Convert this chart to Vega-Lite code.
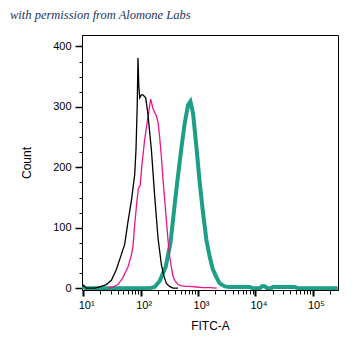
{
  "$schema": "https://vega.github.io/schema/vega-lite/v6.json",
  "autosize": "none",
  "width": 256,
  "height": 255,
  "padding": {"left": 82, "top": 35, "right": 21, "bottom": 69},
  "background": "white",
  "title": {
    "text": "with permission from Alomone Labs",
    "anchor": "start",
    "frame": "group",
    "dx": -72,
    "offset": 14,
    "font": "Liberation Serif",
    "fontStyle": "italic",
    "fontWeight": "normal",
    "fontSize": 12.5,
    "color": "#1d3461"
  },
  "config": {
    "view": {"stroke": "black", "strokeWidth": 1},
    "axis": {
      "grid": false,
      "labelFont": "Liberation Sans",
      "labelFontSize": 11,
      "labelColor": "black",
      "titleFont": "Liberation Sans",
      "titleFontSize": 12,
      "titleFontWeight": "normal",
      "titleColor": "black",
      "tickColor": "black",
      "domainColor": "black"
    }
  },
  "data": {
    "values": [
      {"series": "teal", "fitc": 9.6, "count": 3},
      {"series": "teal", "fitc": 11, "count": 0},
      {"series": "teal", "fitc": 60, "count": 0},
      {"series": "teal", "fitc": 144, "count": 0},
      {"series": "teal", "fitc": 176, "count": 2},
      {"series": "teal", "fitc": 215, "count": 12},
      {"series": "teal", "fitc": 273, "count": 35},
      {"series": "teal", "fitc": 333, "count": 76},
      {"series": "teal", "fitc": 385, "count": 131},
      {"series": "teal", "fitc": 434, "count": 175},
      {"series": "teal", "fitc": 514, "count": 232},
      {"series": "teal", "fitc": 587, "count": 273},
      {"series": "teal", "fitc": 670, "count": 303},
      {"series": "teal", "fitc": 738, "count": 309},
      {"series": "teal", "fitc": 819, "count": 290},
      {"series": "teal", "fitc": 938, "count": 234},
      {"series": "teal", "fitc": 1071, "count": 175},
      {"series": "teal", "fitc": 1222, "count": 125},
      {"series": "teal", "fitc": 1400, "count": 80},
      {"series": "teal", "fitc": 1600, "count": 52},
      {"series": "teal", "fitc": 1804, "count": 32},
      {"series": "teal", "fitc": 2093, "count": 18},
      {"series": "teal", "fitc": 2389, "count": 8},
      {"series": "teal", "fitc": 2929, "count": 3},
      {"series": "teal", "fitc": 3500, "count": 2},
      {"series": "teal", "fitc": 5500, "count": 2},
      {"series": "teal", "fitc": 7900, "count": 2},
      {"series": "teal", "fitc": 9000, "count": 0},
      {"series": "teal", "fitc": 12000, "count": 0},
      {"series": "teal", "fitc": 13000, "count": 3},
      {"series": "teal", "fitc": 14500, "count": 3},
      {"series": "teal", "fitc": 16000, "count": 0},
      {"series": "teal", "fitc": 19000, "count": 0},
      {"series": "teal", "fitc": 20000, "count": 2},
      {"series": "teal", "fitc": 48000, "count": 2},
      {"series": "teal", "fitc": 55000, "count": 0},
      {"series": "teal", "fitc": 272000, "count": 0},
      {"series": "pink", "fitc": 27.1, "count": 0},
      {"series": "pink", "fitc": 33.0, "count": 2},
      {"series": "pink", "fitc": 40.4, "count": 6},
      {"series": "pink", "fitc": 49.3, "count": 18},
      {"series": "pink", "fitc": 60.3, "count": 35},
      {"series": "pink", "fitc": 69.2, "count": 55},
      {"series": "pink", "fitc": 73.8, "count": 70},
      {"series": "pink", "fitc": 78.9, "count": 105},
      {"series": "pink", "fitc": 86.5, "count": 145},
      {"series": "pink", "fitc": 91.5, "count": 165},
      {"series": "pink", "fitc": 98.4, "count": 170},
      {"series": "pink", "fitc": 104.5, "count": 200},
      {"series": "pink", "fitc": 117.8, "count": 246},
      {"series": "pink", "fitc": 134.5, "count": 284},
      {"series": "pink", "fitc": 150, "count": 313},
      {"series": "pink", "fitc": 164.4, "count": 297},
      {"series": "pink", "fitc": 188.4, "count": 285},
      {"series": "pink", "fitc": 201, "count": 275},
      {"series": "pink", "fitc": 215, "count": 250},
      {"series": "pink", "fitc": 230, "count": 218},
      {"series": "pink", "fitc": 245.6, "count": 180},
      {"series": "pink", "fitc": 263, "count": 146},
      {"series": "pink", "fitc": 281, "count": 113},
      {"series": "pink", "fitc": 300, "count": 80},
      {"series": "pink", "fitc": 321, "count": 52},
      {"series": "pink", "fitc": 344, "count": 35},
      {"series": "pink", "fitc": 366, "count": 20},
      {"series": "pink", "fitc": 393, "count": 13},
      {"series": "pink", "fitc": 449, "count": 6},
      {"series": "pink", "fitc": 520, "count": 4},
      {"series": "pink", "fitc": 628, "count": 3},
      {"series": "pink", "fitc": 716, "count": 3},
      {"series": "pink", "fitc": 938, "count": 2},
      {"series": "pink", "fitc": 1208, "count": 1},
      {"series": "pink", "fitc": 1600, "count": 1},
      {"series": "pink", "fitc": 2120, "count": 0},
      {"series": "black", "fitc": 9.6, "count": 4},
      {"series": "black", "fitc": 9.9, "count": 5},
      {"series": "black", "fitc": 11.4, "count": 0},
      {"series": "black", "fitc": 15.9, "count": 0},
      {"series": "black", "fitc": 19.4, "count": 2},
      {"series": "black", "fitc": 25.3, "count": 6},
      {"series": "black", "fitc": 31, "count": 13},
      {"series": "black", "fitc": 37.8, "count": 31},
      {"series": "black", "fitc": 46.3, "count": 56},
      {"series": "black", "fitc": 52.9, "count": 73},
      {"series": "black", "fitc": 60.3, "count": 110},
      {"series": "black", "fitc": 69.2, "count": 145},
      {"series": "black", "fitc": 78.9, "count": 188},
      {"series": "black", "fitc": 83.2, "count": 230},
      {"series": "black", "fitc": 87.2, "count": 300},
      {"series": "black", "fitc": 90.1, "count": 381},
      {"series": "black", "fitc": 93, "count": 335},
      {"series": "black", "fitc": 96.4, "count": 315},
      {"series": "black", "fitc": 103.2, "count": 320},
      {"series": "black", "fitc": 110, "count": 320},
      {"series": "black", "fitc": 122.8, "count": 315},
      {"series": "black", "fitc": 134.5, "count": 287},
      {"series": "black", "fitc": 154.2, "count": 229},
      {"series": "black", "fitc": 176.1, "count": 152},
      {"series": "black", "fitc": 201.1, "count": 83},
      {"series": "black", "fitc": 230.3, "count": 39},
      {"series": "black", "fitc": 255, "count": 20},
      {"series": "black", "fitc": 281.2, "count": 8},
      {"series": "black", "fitc": 320, "count": 3},
      {"series": "black", "fitc": 366.4, "count": 0},
      {"series": "black", "fitc": 450, "count": 0}
    ]
  },
  "resolve": {"axis": {"x": "independent", "y": "independent"}},
  "layer": [
    {
      "transform": [{"filter": "datum.series == 'teal'"}],
      "mark": {"type": "line", "color": "#1c9f86", "strokeWidth": 4, "clip": true},
      "encoding": {
        "x": {
          "field": "fitc", "type": "quantitative",
          "scale": {"type": "log", "domain": [9.53, 275000], "nice": false},
          "axis": {
            "orient": "bottom",
            "values": [10, 100, 1000, 10000, 100000],
            "labelExpr": "datum.value == 10 ? '10¹' : datum.value == 100 ? '10²' : datum.value == 1000 ? '10³' : datum.value == 10000 ? '10⁴' : '10⁵'",
            "tickSize": 6,
            "tickWidth": 2,
            "labelPadding": 3,
            "labelOffset": 3,
            "title": "FITC-A",
            "titlePadding": 10
          }
        },
        "y": {
          "field": "count", "type": "quantitative",
          "scale": {"domain": [-3, 419], "nice": false, "zero": false},
          "axis": {
            "orient": "left",
            "values": [0, 100, 200, 300, 400],
            "tickSize": 7,
            "tickWidth": 1.5,
            "labelPadding": 4,
            "title": "Count",
            "titlePadding": 19
          }
        }
      }
    },
    {
      "transform": [{"filter": "datum.series == 'pink'"}],
      "mark": {"type": "line", "color": "#e8178a", "strokeWidth": 1.3, "clip": true},
      "encoding": {
        "x": {
          "field": "fitc", "type": "quantitative",
          "scale": {"type": "log", "domain": [9.53, 275000], "nice": false},
          "axis": {
            "orient": "bottom",
            "values": [20, 30, 40, 50, 60, 70, 80, 90, 200, 300, 400, 500, 600, 700, 800, 900, 2000, 3000, 4000, 5000, 6000, 7000, 8000, 9000, 20000, 30000, 40000, 50000, 60000, 70000, 80000, 90000, 200000],
            "labels": false,
            "domain": false,
            "tickSize": 4,
            "tickWidth": 1,
            "title": null
          }
        },
        "y": {
          "field": "count", "type": "quantitative",
          "scale": {"domain": [-3, 419], "nice": false, "zero": false},
          "axis": {
            "orient": "left",
            "values": [25, 50, 75, 125, 150, 175, 225, 250, 275, 325, 350, 375],
            "labels": false,
            "domain": false,
            "tickSize": 3,
            "tickWidth": 1,
            "title": null
          }
        }
      }
    },
    {
      "transform": [{"filter": "datum.series == 'black'"}],
      "mark": {"type": "line", "color": "black", "strokeWidth": 1.3, "clip": true},
      "encoding": {
        "x": {
          "field": "fitc", "type": "quantitative",
          "scale": {"type": "log", "domain": [9.53, 275000], "nice": false},
          "axis": null
        },
        "y": {
          "field": "count", "type": "quantitative",
          "scale": {"domain": [-3, 419], "nice": false, "zero": false},
          "axis": null
        }
      }
    }
  ]
}
